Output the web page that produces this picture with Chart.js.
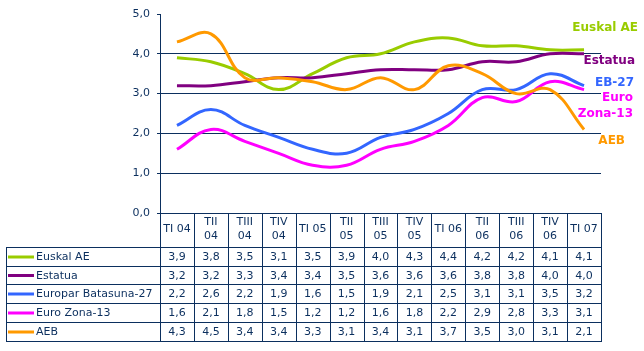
<!DOCTYPE html>
<html><head><meta charset="utf-8">
<script src="https://cdn.jsdelivr.net/npm/chart.js@4/dist/chart.umd.min.js"></script>
<style>html,body{margin:0;padding:0;background:#fff;}#wrap{width:644px;height:351px;position:relative}</style>
</head><body><div id="wrap"><canvas id="c" width="644" height="351"></canvas></div>
<script>
const tickLabels = [["TI 04"],["TII","04"],["TIII","04"],["TIV","04"],["TI 05"],["TII","05"],["TIII","05"],["TIV","05"],["TI 06"],["TII","06"],["TIII","06"],["TIV","06"],["TI 07"]];
const seriesNames = ["Euskal AE","Estatua","Europar Batasuna-27","Euro Zona-13","AEB"];
const euskalAE = [3.9,3.8,3.5,3.1,3.5,3.9,4.0,4.3,4.4,4.2,4.2,4.1,4.1];
const estatua  = [3.2,3.2,3.3,3.4,3.4,3.5,3.6,3.6,3.6,3.8,3.8,4.0,4.0];
const eb27     = [2.2,2.6,2.2,1.9,1.6,1.5,1.9,2.1,2.5,3.1,3.1,3.5,3.2];
const euroZona = [1.6,2.1,1.8,1.5,1.2,1.2,1.6,1.8,2.2,2.9,2.8,3.3,3.1];
const aeb      = [4.3,4.5,3.4,3.4,3.3,3.1,3.4,3.1,3.7,3.5,3.0,3.1,2.1];
const seriesValues = [euskalAE, estatua, eb27, euroZona, aeb];
const seriesColors = ["#99cc00","#800080","#3366ff","#ff00ff","#ff9900"];
const yTicks = [0,1,2,3,4,5];
// end-of-line annotation labels: text, colour, value-level where they sit, right edge offset
const endLabels = [
  {text:"Euskal AE", color:"#99cc00", level:4.64, dx:37},
  {text:"Estatua",   color:"#800080", level:3.83, dx:34},
  {text:"EB-27",     color:"#3366ff", level:3.28, dx:33},
  {text:"Euro",      color:"#ff00ff", level:2.90, dx:32},
  {text:"Zona-13",   color:"#ff00ff", level:2.49, dx:32},
  {text:"AEB",       color:"#ff9900", level:1.81, dx:24}
];

const navy = "#0b2f5e";
const FONT = "'DejaVu Sans', Verdana, sans-serif";
Chart.defaults.font.family = FONT;
Chart.defaults.font.size = 11;
Chart.defaults.color = navy;

const fmt = v => Number(v).toFixed(1).replace('.', ',');

const tablePlugin = {
  id: 'dataTable',
  afterDraw(chart) {
    const ctx = chart.ctx, area = chart.chartArea, xs = chart.scales.x;
    const n = tickLabels.length;
    const colW = (area.right - area.left) / n;
    const top = Math.round(area.bottom);
    const headerBottom = top + 34;
    const rowH = 18.7;
    const tableLeft = 6;
    const rows = seriesNames.length;
    const rowY = k => Math.round(headerBottom + k * rowH) + 0.5;
    const bottom = rowY(rows);
    ctx.save();
    ctx.strokeStyle = navy; ctx.lineWidth = 1;
    ctx.beginPath();
    for (let i = 0; i <= n; i++) {
      const x = Math.round(area.left + i * colW) + 0.5;
      ctx.moveTo(x, top); ctx.lineTo(x, bottom);
    }
    ctx.moveTo(tableLeft + 0.5, rowY(0)); ctx.lineTo(tableLeft + 0.5, bottom);
    for (let k = 0; k <= rows; k++) {
      ctx.moveTo(tableLeft, rowY(k)); ctx.lineTo(Math.round(area.right) + 1, rowY(k));
    }
    ctx.stroke();
    ctx.textBaseline = 'middle';
    ctx.font = "11px " + FONT;
    for (let k = 0; k < rows; k++) {
      const cy = (rowY(k) + rowY(k + 1)) / 2;
      ctx.strokeStyle = seriesColors[k]; ctx.lineWidth = 3;
      ctx.beginPath(); ctx.moveTo(8, cy); ctx.lineTo(34, cy); ctx.stroke();
      ctx.fillStyle = navy; ctx.textAlign = 'left';
      ctx.fillText(seriesNames[k], 36, cy + 0.5);
      ctx.textAlign = 'center';
      seriesValues[k].forEach((v, i) => {
        ctx.fillText(fmt(v), xs.getPixelForValue(i), cy + 0.5);
      });
    }
    ctx.restore();
  }
};

const endLabelPlugin = {
  id: 'endLabels',
  afterDraw(chart) {
    const ctx = chart.ctx, area = chart.chartArea, ys = chart.scales.y;
    ctx.save();
    ctx.font = "bold 12px " + FONT;
    ctx.textAlign = 'right'; ctx.textBaseline = 'middle';
    endLabels.forEach(l => {
      ctx.fillStyle = l.color;
      ctx.fillText(l.text, area.right + l.dx, ys.getPixelForValue(l.level));
    });
    ctx.restore();
  }
};

new Chart(document.getElementById('c'), {
  type: 'line',
  data: {
    labels: tickLabels,
    datasets: seriesNames.map((name, i) => ({
      label: name,
      data: seriesValues[i],
      borderColor: seriesColors[i],
      backgroundColor: seriesColors[i],
      borderWidth: 3,
      pointRadius: 0,
      tension: 0.4,
      fill: false,
      order: seriesNames.length - i
    }))
  },
  options: {
    responsive: false,
    animation: false,
    layout: { padding: { left: 0, right: 43, top: 14, bottom: 0 } },
    plugins: { legend: { display: false }, tooltip: { enabled: false } },
    scales: {
      x: {
        offset: true,
        grid: { display: false, drawTicks: false },
        border: { display: false },
        ticks: { padding: 9, crossAlign: 'center', autoSkip: false, maxRotation: 0, minRotation: 0, color: navy,
                 font: { size: 11, lineHeight: 1.3 } },
        afterFit(s) { s.height = 138; }
      },
      y: {
        min: 0, max: 5,
        afterBuildTicks(s) { s.ticks = yTicks.map(v => ({ value: v })); },
        ticks: { padding: 7, color: navy, callback: v => fmt(v), font: { size: 11 } },
        grid: { color: c => (c.tick && c.tick.value === 5) ? 'rgba(0,0,0,0)' : navy,
                tickColor: navy, tickLength: 3, lineWidth: 1 },
        border: { color: navy, width: 1 },
        afterFit(s) { s.width = 160; }
      }
    }
  },
  plugins: [tablePlugin, endLabelPlugin]
});
</script>
</body></html>
